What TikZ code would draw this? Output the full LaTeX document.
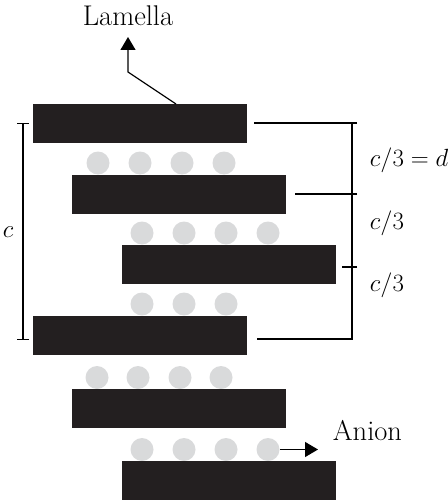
\documentclass[tikz,border=0pt]{standalone}
\usetikzlibrary{arrows.meta}
\definecolor{sheet}{HTML}{231F20}
\definecolor{ion}{HTML}{D9DADB}
\begin{document}
\begin{tikzpicture}[x=1pt,y=-1pt,every path/.style={line width=1.2pt,>={Triangle[width=15pt,length=13pt]}},
  every node/.style={font=\fontsize{24}{29}\selectfont},
  word/.style={font=\fontsize{28.5}{34}\selectfont},
  layer/.style={fill=sheet,minimum width=214pt,minimum height=39pt,inner sep=0pt},
  anion/.style={circle,fill=ion,minimum size=23pt,inner sep=0pt}]
\useasboundingbox (0,0) rectangle (447,500);
\node[anion] (a11) at (98,163)    {};
\node[anion] (a12) at (140,163)   {};
\node[anion] (a13) at (182,163)   {};
\node[anion] (a14) at (224,163)   {};
\node[anion] (a21) at (142,233)   {};
\node[anion] (a22) at (184,233)   {};
\node[anion] (a23) at (226,233)   {};
\node[anion] (a24) at (268,233)   {};
\node[anion] (a31) at (142,304)   {};
\node[anion] (a32) at (184,304)   {};
\node[anion] (a33) at (226,304)   {};
\node[anion] (a41) at (97,377.5)  {};
\node[anion] (a42) at (138,377.5) {};
\node[anion] (a43) at (180,377.5) {};
\node[anion] (a44) at (221,377.5) {};
\node[anion] (a51) at (142,449.5) {};
\node[anion] (a52) at (184,449.5) {};
\node[anion] (a53) at (226,449.5) {};
\node[anion] (a54) at (268,449.5) {};
\node[layer] (l1) at (140,123.5)   {};
\node[layer] (l2) at (179,194)     {};
\node[layer] (l3) at (228.5,264)   {};
\node[layer] (l4) at (140,335)     {};
\node[layer] (l5) at (179,408.5)   {};
\node[layer] (l6) at (228.5,480.5) {};
\node[word] (lam) at (128,16) {Lamella};
\coordinate (lb) at (176,104);
\coordinate (lk) at (128,72);
\coordinate (lt) at (128,37);
\draw[->] (lb) -- (lk) -- (lt);
\coordinate (at) at (318,449.5);
\draw[->] (a54.east) -- (at);
\node[word,anchor=west] (an) at (329,431) {Anion};
\coordinate (c1) at (23,123);
\coordinate (c2) at (23,340);
\draw[{Bar[width=12pt]}-{Bar[width=12pt]}] (c1) -- (c2);
\node (cl) at (8,232) {$c$};
\coordinate (r1) at (352,123);
\coordinate (r2) at (352,194);
\coordinate (r3) at (352,267);
\coordinate (r4) at (352,339);
\draw ([xshift=5pt]r1) -- ++(-103,0);
\draw ([xshift=5pt]r2) -- ++(-62,0);
\draw ([xshift=5pt]r3) -- ++(-15,0);
\draw (r1) -- (r4) -- ++(-95,0);
\node[anchor=west] (d1) at (366,160) {$c/3 = d$};
\node[anchor=west] (d2) at (366,223) {$c/3$};
\node[anchor=west] (d3) at (366,285) {$c/3$};
\end{tikzpicture}
\end{document}
